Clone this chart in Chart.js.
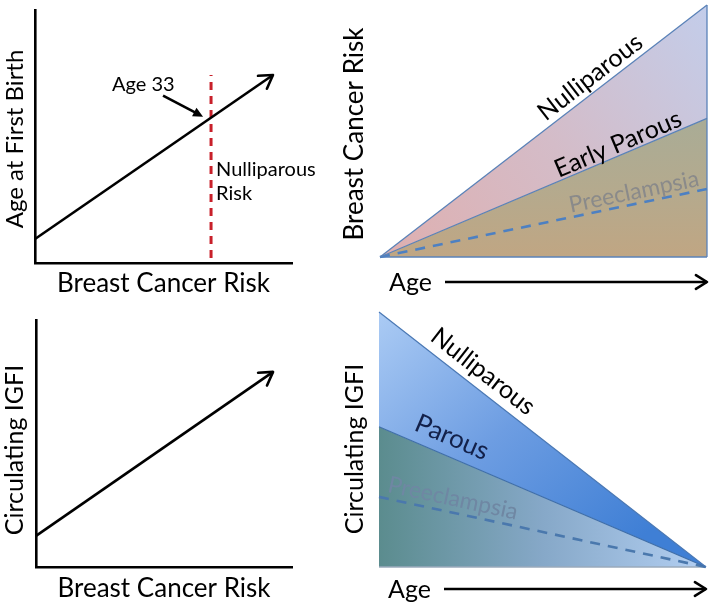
<!DOCTYPE html>
<html>
<head>
<meta charset="utf-8">
<script src="https://cdn.jsdelivr.net/npm/chart.js@4.4.0/dist/chart.umd.min.js"></script>
<style>
  body { margin: 0; background: #fff; }
  #wrap { position: relative; width: 714px; height: 608px; overflow: hidden; }
  canvas { position: absolute; }
</style>
</head>
<body>
<div id="wrap">
  <canvas id="c1" width="357" height="304" style="left:0;top:0"></canvas>
  <canvas id="c3" width="357" height="304" style="left:0;top:304px"></canvas>
  <canvas id="c2" width="384" height="304" style="left:330px;top:0"></canvas>
  <canvas id="c4" width="384" height="304" style="left:330px;top:304px"></canvas>
</div>
<script>
// ---- data (schematic units 0..10) ----
// top left: age at first birth vs risk
const riskX = [0, 9.26];
const ageFirstBirthY = [0.95, 7.43];
const age33X = 6.85;
const nulliparousRiskY = [0.2, 7.43];
// bottom left: IGF-I vs risk
const igfRiskX = [0, 9.26];
const igfY = [1.26, 7.9];
// right panels share the age axis
const ageX = [0, 10];
const riskNulliparous = [0, 10];
const riskEarlyParous = [0, 5.5];
const riskPreeclampsia = [0, 2.7];
const igfNulliparous = [10, 0];
const igfParous = [5.5, 0];
const igfPreeclampsia = [2.75, 0];

const FONT = 'Lato, "Open Sans", sans-serif';

function pts(xs, ys) {
  return xs.map((x, i) => ({ x: x, y: ys[i] }));
}

function yAt(data, x) {
  const a = data[0], b = data[data.length - 1];
  return a.y + (b.y - a.y) * (x - a.x) / (b.x - a.x);
}

function chevron(ctx, x, y, ang, len, width) {
  ctx.save();
  ctx.strokeStyle = '#000';
  ctx.lineWidth = width;
  ctx.lineCap = 'round';
  ctx.lineJoin = 'round';
  ctx.beginPath();
  ctx.moveTo(x - len * Math.cos(ang - 0.55), y - len * Math.sin(ang - 0.55));
  ctx.lineTo(x, y);
  ctx.lineTo(x - len * Math.cos(ang + 0.55), y - len * Math.sin(ang + 0.55));
  ctx.stroke();
  ctx.restore();
}

function label(ctx, str, x, y, size, color, rot, align) {
  ctx.save();
  ctx.translate(x, y);
  if (rot) ctx.rotate(rot);
  ctx.font = size + 'px ' + FONT;
  ctx.fillStyle = color || '#000';
  ctx.textAlign = align || 'center';
  ctx.textBaseline = 'middle';
  ctx.fillText(str, 0, 0);
  ctx.restore();
}

// arrow at the end of any dataset marked arrowHead
const arrowPlugin = {
  id: 'arrowHeads',
  afterDatasetsDraw(chart) {
    chart.data.datasets.forEach((ds, i) => {
      if (!ds.arrowHead) return;
      const p = chart.getDatasetMeta(i).data;
      const a = p[p.length - 2], b = p[p.length - 1];
      chevron(chart.ctx, b.x, b.y, Math.atan2(b.y - a.y, b.x - a.x), 15, 2.6);
    });
  }
};

// text sitting along a dataset line
const lineLabelPlugin = {
  id: 'lineLabels',
  afterDatasetsDraw(chart) {
    chart.data.datasets.forEach((ds, i) => {
      if (!ds.tag) return;
      const t = ds.tag;
      const p = chart.getDatasetMeta(i).data;
      const a = p[0], b = p[p.length - 1];
      const ang = Math.atan2(b.y - a.y, b.x - a.x);
      const fx = chart.scales.x.getPixelForValue(t.at);
      const fy = chart.scales.y.getPixelForValue(yAt(ds.data, t.at));
      const cx = fx + t.off * Math.sin(ang);
      const cy = fy - t.off * Math.cos(ang);
      label(chart.ctx, t.text, cx, cy, t.size, t.color, ang);
    });
  }
};

function axis(show) {
  return {
    type: 'linear', min: 0, max: 10, display: show,
    grid: { display: false, drawTicks: false },
    ticks: { display: false },
    border: { display: show, color: '#000', width: 2.6 }
  };
}

function makeChart(id, datasets, padding, showAxes, decorate) {
  datasets.forEach(d => {
    d.clip = false;
    d.pointRadius = 0;
    if (d.fill === undefined) d.fill = false;
  });
  return new Chart(document.getElementById(id), {
    type: 'line',
    data: { datasets: datasets },
    options: {
      responsive: false,
      animation: false,
      layout: { padding: padding },
      elements: { line: { tension: 0 } },
      scales: { x: axis(showAxes), y: axis(showAxes) },
      plugins: {
        legend: { display: false },
        tooltip: { enabled: false },
        filler: { drawTime: 'beforeDatasetsDraw' }
      }
    },
    plugins: [arrowPlugin, lineLabelPlugin, { id: 'decor', afterDatasetsDraw: decorate }]
  });
}

function gradient(c, stops, dir) {
  const a = c.chart.chartArea;
  if (!a) return stops[0];
  const g = c.chart.ctx.createLinearGradient(
    a.left + (a.right - a.left) * dir[0], a.top + (a.bottom - a.top) * dir[1],
    a.left + (a.right - a.left) * dir[2], a.top + (a.bottom - a.top) * dir[3]);
  stops.forEach((s, i) => g.addColorStop(i / (stops.length - 1), s));
  return g;
}

// ================= TOP LEFT =================
const firstBirth = pts(riskX, ageFirstBirthY);
makeChart('c1', [
  { data: firstBirth, borderColor: '#000', borderWidth: 2.6, arrowHead: true },
  { data: pts([age33X, age33X], nulliparousRiskY), borderColor: '#c8202a', borderWidth: 3, borderDash: [8, 6] }
], { left: 35, top: 10, right: 65, bottom: 41 }, true, chart => {
  const ctx = chart.ctx, a = chart.chartArea;
  label(ctx, 'Age at First Birth', a.left - 20, 139, 24, '#000', -Math.PI / 2);
  label(ctx, 'Breast Cancer Risk', (a.left + a.right) / 2, a.bottom + 21, 26);
  // pointer to the crossing point
  const ix = chart.scales.x.getPixelForValue(age33X);
  const iy = chart.scales.y.getPixelForValue(yAt(firstBirth, age33X));
  const tx = ix - 8, ty = iy - 1, sx = ix - 48, sy = iy - 22;
  ctx.save();
  ctx.strokeStyle = '#000'; ctx.fillStyle = '#000'; ctx.lineWidth = 2.6;
  const ang = Math.atan2(ty - sy, tx - sx);
  ctx.beginPath(); ctx.moveTo(sx, sy);
  ctx.lineTo(tx - 8 * Math.cos(ang), ty - 8 * Math.sin(ang)); ctx.stroke();
  ctx.beginPath(); ctx.moveTo(tx, ty);
  ctx.lineTo(tx - 11 * Math.cos(ang - 0.45), ty - 11 * Math.sin(ang - 0.45));
  ctx.lineTo(tx - 11 * Math.cos(ang + 0.45), ty - 11 * Math.sin(ang + 0.45));
  ctx.closePath(); ctx.fill();
  ctx.restore();
  label(ctx, 'Age 33', ix - 99, 85, 20, '#000', 0, 'left');
  label(ctx, 'Nulliparous', ix + 5, 170, 20, '#000', 0, 'left');
  label(ctx, 'Risk', ix + 5, 194, 20, '#000', 0, 'left');
});

// ================= BOTTOM LEFT =================
makeChart('c3', [
  { data: pts(igfRiskX, igfY), borderColor: '#000', borderWidth: 2.6, arrowHead: true }
], { left: 36, top: 16, right: 65, bottom: 41 }, true, chart => {
  const ctx = chart.ctx, a = chart.chartArea;
  label(ctx, 'Circulating IGFI', a.left - 21, 146, 25, '#000', -Math.PI / 2);
  label(ctx, 'Breast Cancer Risk', (a.left + a.right) / 2, a.bottom + 22, 26);
});

function ageArrow(chart, y) {
  const ctx = chart.ctx, a = chart.chartArea;
  label(ctx, 'Age', a.left + 9, y + 1, 25, '#000', 0, 'left');
  ctx.save();
  ctx.strokeStyle = '#000'; ctx.lineWidth = 2.6;
  ctx.beginPath(); ctx.moveTo(a.left + 65, y); ctx.lineTo(a.right, y); ctx.stroke();
  ctx.restore();
  chevron(ctx, a.right, y, 0, 13, 2.6);
}

// ================= TOP RIGHT =================
makeChart('c2', [
  { data: pts(ageX, riskNulliparous), borderColor: '#5a82b8', borderWidth: 1.3, fill: '+1',
    backgroundColor: c => gradient(c, ['#dfafaf', '#d4bcc8', '#c3cdea'], [0, 1, 1, 0]),
    tag: { text: 'Nulliparous', at: 6.69, off: 14, size: 25, color: '#000' } },
  { data: pts(ageX, riskEarlyParous), borderColor: '#5a82b8', borderWidth: 1.3, fill: 'origin',
    backgroundColor: c => gradient(c, ['#a9ac96', '#b4aa8e', '#c0a683'], [0, 0.45, 0, 1]),
    tag: { text: 'Early Parous', at: 7.41, off: 11, size: 25, color: '#000' } },
  { data: pts(ageX, riskPreeclampsia), borderColor: '#4d80c2', borderWidth: 2.6, borderDash: [10, 8],
    tag: { text: 'Preeclampsia', at: 7.84, off: 12, size: 23, color: '#8a8a8a' } },
  { data: pts([ageX[1], ageX[1]], [0, riskNulliparous[1]]), borderColor: '#5a82b8', borderWidth: 1.3 },
  { data: pts(ageX, [0, 0]), borderColor: '#5a82b8', borderWidth: 1.5 }
], { left: 50, top: 5, right: 7, bottom: 47 }, false, chart => {
  label(chart.ctx, 'Breast Cancer Risk', 25, 134, 26, '#000', -Math.PI / 2);
  ageArrow(chart, 282);
});

// ================= BOTTOM RIGHT =================
makeChart('c4', [
  { data: pts(ageX, igfNulliparous), borderColor: '#4a78b4', borderWidth: 1.2, fill: '+1',
    backgroundColor: c => gradient(c, ['#abcbf4', '#6d9de2', '#3f7fd5'], [0, 0, 0.7, 1]),
    tag: { text: 'Nulliparous', at: 2.86, off: 17, size: 25, color: '#000' } },
  { data: pts(ageX, igfParous), borderColor: '#3f6ea8', borderWidth: 1.2, fill: 'origin',
    backgroundColor: c => gradient(c, ['#5b8c8e', '#86a8c8', '#b3cff2'], [0, 0, 1, 0]),
    tag: { text: 'Parous', at: 2.0, off: 19, size: 26, color: '#13214a' } },
  { data: pts(ageX, igfPreeclampsia), borderColor: '#4a78ad', borderWidth: 2.6, borderDash: [10, 8],
    tag: { text: 'Preeclampsia', at: 2.17, off: 14, size: 23, color: '#6f87a3' } },
  { data: pts(ageX, [0, 0]), borderColor: '#9aaabb', borderWidth: 1.5 }
], { left: 49, top: 8, right: 8, bottom: 41 }, false, chart => {
  label(chart.ctx, 'Circulating IGFI', 25, 145, 25, '#000', -Math.PI / 2);
  ageArrow(chart, 285);
});
</script>
</body>
</html>
